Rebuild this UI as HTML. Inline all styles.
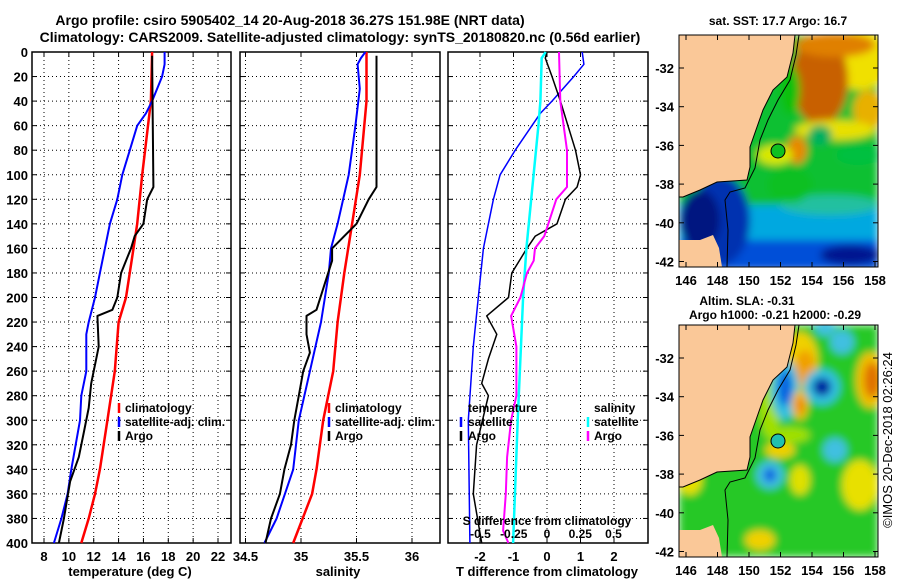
<!DOCTYPE html>
<html><head><meta charset="utf-8">
<style>
html,body{margin:0;padding:0;background:#fff;}
svg{display:block;font-family:"Liberation Sans",Arial,sans-serif;font-weight:bold;}
</style></head>
<body>
<svg id="chart" width="900" height="580" viewBox="0 0 900 580" xmlns="http://www.w3.org/2000/svg">
<defs>
<filter id="blur4" x="-20%" y="-20%" width="140%" height="140%"><feGaussianBlur stdDeviation="4"/></filter>
<clipPath id="clipMap1"><rect x="679" y="35" width="199" height="232"/></clipPath>
<clipPath id="clipMap2"><rect x="679" y="325" width="199" height="232"/></clipPath>
</defs>
<text x="290" y="25" font-size="14" text-anchor="middle">Argo profile: csiro 5905402_14 20-Aug-2018 36.27S 151.98E (NRT data)</text>
<text x="340" y="42" font-size="14" text-anchor="middle">Climatology: CARS2009. Satellite-adjusted climatology: synTS_20180820.nc (0.56d earlier)</text>
<g id="plots"></g>
<g id="maps"></g>
<text font-size="13" font-weight="normal" transform="translate(892,440) rotate(-90)" text-anchor="middle">©IMOS 20-Dec-2018 02:26:24</text>
</svg>
<script>
// ---- data ----
const depthTicks = [0,20,40,60,80,100,120,140,160,180,200,220,240,260,280,300,320,340,360,380,400];
const tempTicks = [8,10,12,14,16,18,20,22];
const salTicks = [34.5,35,35.5,36];
const diffTTicks = [-2,-1,0,1,2];
const diffSTicks = [-0.5,-0.25,0,0.25,0.5];
const salTickLabels = ["34.5","35","35.5","36"];
const diffSTickLabels = ["-0.5","-0.25","0","0.25","0.5"];

const tClimDepth = [0,40,100,140,160,200,220,260,300,340,360,380,400];
const tClimVal   = [16.7,16.6,15.9,15.5,15.2,14.6,14.0,13.7,13.1,12.5,12.1,11.6,11.0];
const tSatDepth = [0,10,20,40,50,60,80,100,120,140,180,200,220,230,260,280,300,340,360,380,400];
const tSatVal   = [17.7,17.7,17.5,16.7,16.2,15.5,14.9,14.3,13.9,13.3,12.5,12.1,11.6,11.4,11.4,11.0,10.9,10.2,9.9,9.4,8.8];
const tArgoDepth = [3,110,120,140,150,160,170,180,200,210,215,240,250,270,290,310,330,350,380,400];
const tArgoVal   = [16.7,16.8,16.3,16.0,15.3,15.0,14.6,14.2,13.9,13.5,12.3,12.4,12.2,11.8,11.6,11.2,10.8,10.1,9.6,9.2];

const sClimDepth = [0,40,100,140,180,220,260,300,340,360,400];
const sClimVal   = [35.59,35.59,35.53,35.46,35.39,35.33,35.29,35.2,35.14,35.1,34.93];
const sSatDepth = [0,5,10,30,60,100,140,160,180,220,260,300,340,380,400];
const sSatVal   = [35.58,35.54,35.51,35.53,35.49,35.43,35.33,35.27,35.25,35.18,35.08,34.98,34.93,34.78,34.67];
const sArgoDepth = [3,110,120,140,150,160,170,190,210,215,230,245,260,280,300,320,340,360,380,400];
const sArgoVal   = [35.68,35.68,35.61,35.5,35.39,35.28,35.28,35.21,35.14,35.05,35.05,35.08,35.02,34.98,34.94,34.91,34.85,34.81,34.73,34.68];

const dTSatDepth = [0,10,20,40,50,60,80,100,120,160,200,240,300,400];
const dTSatVal   = [1.05,1.1,0.8,0.15,-0.2,-0.45,-0.95,-1.4,-1.6,-1.9,-2.05,-2.2,-2.35,-2.3];
const dTArgoDepth = [0,5,20,40,80,100,110,120,140,150,160,180,200,215,230,250,270,280,320,360,400];
const dTArgoVal   = [0,-0.05,0.15,0.4,0.85,1.0,0.9,0.55,0.3,-0.35,-0.6,-1.05,-1.15,-1.8,-1.5,-1.75,-1.95,-1.75,-2.1,-2.2,-1.95];
const dSSatDepth = [0,5,40,60,160,200,300,400];
const dSSatVal   = [-0.01,-0.04,-0.05,-0.065,-0.155,-0.18,-0.22,-0.255];
const dSArgoDepth = [0,40,80,110,120,150,160,170,180,200,215,240,280,300,330,360,390,400];
const dSArgoVal   = [0.09,0.1,0.15,0.15,0.07,-0.02,-0.09,-0.1,-0.15,-0.2,-0.27,-0.23,-0.23,-0.27,-0.3,-0.31,-0.33,-0.29];

const latTicks = [-32,-34,-36,-38,-40,-42];
const lonTicks = [146,148,150,152,154,156,158];

// ---- axes ----
const NS = "http://www.w3.org/2000/svg";
const TOP = 52, BOT = 543;
const yD = d => TOP + d * ((BOT-TOP)/400);
const xT = v => 44 + (v - 8) * (174/14);
const xS = v => 301 + (v - 35) * 111;
const xDT = v => 547 + v * 33.5;
const xDS = v => 547 + v * 133;
const panels = [{x0:32,x1:231},{x0:240,x1:440},{x0:448,x1:648}];

function mk(tag, attrs, parent){
  const e = document.createElementNS(NS, tag);
  for (const k in attrs) e.setAttribute(k, attrs[k]);
  parent.appendChild(e);
  return e;
}
const plots = document.getElementById('plots');

function drawPanel(p, name, xTicksPx){
  const g = mk('g', {}, plots);
  
  
  depthTicks.forEach(d => {
    if (d===0||d===400) return;
    const gl = mk('line',{x1:p.x0,x2:p.x1,y1:yD(d),y2:yD(d),stroke:'#000','stroke-width':1,'stroke-dasharray':'1,3'},g);
    
    
    mk('line',{x1:p.x0,x2:p.x0+5,y1:yD(d),y2:yD(d),stroke:'#000'},g);
    mk('line',{x1:p.x1-5,x2:p.x1,y1:yD(d),y2:yD(d),stroke:'#000'},g);
  });
  xTicksPx.forEach(x => {
    const gl = mk('line',{x1:x,x2:x,y1:TOP,y2:BOT,stroke:'#000','stroke-width':1,'stroke-dasharray':'1,3'},g);
    
    
    mk('line',{x1:x,x2:x,y1:BOT,y2:BOT-5,stroke:'#000'},g);
    mk('line',{x1:x,x2:x,y1:TOP,y2:TOP+5,stroke:'#000'},g);
  });
  const fr = mk('rect',{x:p.x0,y:TOP,width:p.x1-p.x0,height:BOT-TOP,fill:'none',stroke:'#000','stroke-width':1.5},g);
  
  
  return g;
}
function line(g, depths, vals, xf, color, w, name){
  const pts = depths.map((d,i)=> xf(vals[i]).toFixed(1)+','+yD(d).toFixed(1)).join(' ');
  const pl = mk('polyline',{points:pts,fill:'none',stroke:color,'stroke-width':w,'stroke-linejoin':'round'},g);
  
  
}
function text(g, x, y, s, size, anchor, name, color){
  const t = mk('text',{x:x,y:y,'font-size':size,'text-anchor':anchor||'start',fill:color||'#000'},g);
  t.textContent = s;
  
  
  return t;
}
function legendMark(g,x,y,color){
  const m = mk('line',{x1:x,x2:x,y1:y-10,y2:y,stroke:color,'stroke-width':2.5},g);
  
  
}

// y tick labels
const yl = mk('g',{},plots);


depthTicks.forEach(d => text(yl, 28, yD(d)+5, String(d), 13, 'end', 'y-tick-label'));

const LB = [412, 426, 440];

// temperature panel
const gT = drawPanel(panels[0], 'temperature-panel', tempTicks.map(xT));
line(gT, tClimDepth, tClimVal, xT, '#ff0000', 2.5, 'temp-climatology-line');
line(gT, tSatDepth, tSatVal, xT, '#0000ff', 2, 'temp-satellite-line');
line(gT, tArgoDepth, tArgoVal, xT, '#000', 2, 'temp-argo-line');
tempTicks.forEach(v => text(gT, xT(v), 561, String(v), 13, 'middle', 'x-tick-label'));
text(gT, 130, 576, 'temperature (deg C)', 13, 'middle', 'x-axis-title');
legendMark(gT,119,LB[0]+1,'#ff0000'); text(gT,125,LB[0],'climatology',12,'start','legend-entry');
legendMark(gT,119,LB[1]+1,'#0000ff'); text(gT,125,LB[1],'satellite-adj. clim.',12,'start','legend-entry');
legendMark(gT,119,LB[2]+1,'#000'); text(gT,125,LB[2],'Argo',12,'start','legend-entry');

// salinity panel
const gS = drawPanel(panels[1], 'salinity-panel', salTicks.map(xS));
line(gS, sClimDepth, sClimVal, xS, '#ff0000', 2.5, 'sal-climatology-line');
line(gS, sSatDepth, sSatVal, xS, '#0000ff', 2, 'sal-satellite-line');
line(gS, sArgoDepth, sArgoVal, xS, '#000', 2, 'sal-argo-line');
salTicks.forEach((v,i) => text(gS, xS(v), 561, salTickLabels[i], 13, 'middle', 'x-tick-label'));
text(gS, 338, 576, 'salinity', 13, 'middle', 'x-axis-title');
legendMark(gS,329,LB[0]+1,'#ff0000'); text(gS,335,LB[0],'climatology',12,'start','legend-entry');
legendMark(gS,329,LB[1]+1,'#0000ff'); text(gS,335,LB[1],'satellite-adj. clim.',12,'start','legend-entry');
legendMark(gS,329,LB[2]+1,'#000'); text(gS,335,LB[2],'Argo',12,'start','legend-entry');

// difference panel
const gD = drawPanel(panels[2], 'difference-panel', diffTTicks.map(xDT));
line(gD, dTSatDepth, dTSatVal, xDT, '#0000ff', 1.5, 'dT-satellite-line');
line(gD, dTArgoDepth, dTArgoVal, xDT, '#000', 1.5, 'dT-argo-line');
line(gD, dSSatDepth, dSSatVal, xDS, '#00ffff', 2.5, 'dS-satellite-line');
line(gD, dSArgoDepth, dSArgoVal, xDS, '#ff00ff', 2, 'dS-argo-line');
diffTTicks.forEach(v => text(gD, xDT(v), 561, String(v), 13, 'middle', 'x-tick-label'));
diffSTicks.forEach((v,i) => text(gD, xDS(v), 538, diffSTickLabels[i], 12, 'middle', 's-tick-label'));
text(gD, 547, 525, 'S difference from climatology', 12, 'middle', 's-axis-title');
text(gD, 547, 576, 'T difference from climatology', 13, 'middle', 'x-axis-title');
text(gD, 468, LB[0], 'temperature', 12, 'start', 'legend-title');
legendMark(gD,461,LB[1]+1,'#0000ff'); text(gD,468,LB[1],'satellite',12,'start','legend-entry');
legendMark(gD,461,LB[2]+1,'#000'); text(gD,468,LB[2],'Argo',12,'start','legend-entry');
text(gD, 594, LB[0], 'salinity', 12, 'start', 'legend-title');
legendMark(gD,588,LB[1]+1,'#00ffff'); text(gD,594,LB[1],'satellite',12,'start','legend-entry');
legendMark(gD,588,LB[2]+1,'#ff00ff'); text(gD,594,LB[2],'Argo',12,'start','legend-entry');

// ---- maps ----
const maps = document.getElementById('maps');
const lonX = lon => 686 + (lon - 146) * (189/12);
const coast = [[795,35],[793,53],[787,77],[773,90],[763,110],[757,127],[750,147],[750,167],[747,180],[717,182],[700,190],[683,197],[679,197]];
const shelf = [[799,35],[796,55],[790,80],[778,100],[768,120],[760,140],[755,168],[745,188],[730,192],[725,200],[728,230],[727,267]];

function drawMap(oy, clip, blobs, name, title1, title2){
  const dy = oy - 35;
  const g = mk('g',{},maps);
  
  
  const inner = mk('g',{'clip-path':'url(#'+clip+')'},g);
  const oc = mk('g',{filter:'url(#blur4)'},inner);
  blobs.forEach(b => {
    if (b[0]==='r') mk('rect',{x:b[1],y:b[2]+dy,width:b[3],height:b[4],fill:b[5]},oc);
    else mk('ellipse',{cx:b[1],cy:b[2]+dy,rx:b[3],ry:b[4],fill:b[5]},oc);
  });
  const lp = mk('polygon',{points:[[679,35+dy]].concat(coast.map(p=>[p[0],p[1]+dy])).map(p=>p.join(',')).join(' '),fill:'#fac898'},inner);
  
  
  const lp2 = mk('polygon',{points:[[679,240],[700,240],[713,235],[719,248],[722,267],[679,267]].map(p=>p[0]+','+(p[1]+dy)).join(' '),fill:'#fac898'},inner);
  
  
  mk('polyline',{points:coast.map(p=>p[0]+','+(p[1]+dy)).join(' '),fill:'none',stroke:'#000','stroke-width':1},inner);
  mk('polyline',{points:shelf.map(p=>p[0]+','+(p[1]+dy)).join(' '),fill:'none',stroke:'#000','stroke-width':1},inner);
  const m = mk('circle',{cx:778,cy:151+dy,r:7,fill:dy===0?'#10c020':'#20c0b0',stroke:'#000','stroke-width':1},g);
  
  
  mk('rect',{x:679,y:oy,width:199,height:232,fill:'none',stroke:'#000','stroke-width':1},g);
  const latY = lat => (dy===0?68:358) + (-32 - lat) * 19.35;
  latTicks.forEach(l => {
    mk('line',{x1:679,x2:684,y1:latY(l),y2:latY(l),stroke:'#000'},g);
    mk('line',{x1:873,x2:878,y1:latY(l),y2:latY(l),stroke:'#000'},g);
    text(g, 674, latY(l)+5, String(l), 13, 'end', 'lat-tick-label');
  });
  lonTicks.forEach(l => {
    mk('line',{x1:lonX(l),x2:lonX(l),y1:oy+232,y2:oy+227,stroke:'#000'},g);
    mk('line',{x1:lonX(l),x2:lonX(l),y1:oy,y2:oy+5,stroke:'#000'},g);
    text(g, lonX(l), oy+250, String(l), 13, 'middle', 'lon-tick-label');
  });
  if (title2) { text(g, 747, oy-20, title1, 12, 'middle', 'map-title'); text(g, 775, oy-6, title2, 12, 'middle', 'map-subtitle'); }
  else text(g, 778, oy-10, title1, 12, 'middle', 'map-title');
}
const sstBlobs = [
 ['r',679,35,199,232,'#10c030'],
 ['r',679,205,199,40,'#00a8e0'],
 ['r',679,240,199,30,'#0050d8'],
 ['e',850,255,30,10,'#001890'],
 ['e',720,220,30,45,'#0030b0'],
 ['e',700,220,20,30,'#001880'],
 ['e',830,205,50,10,'#20c0a0'],
 ['e',790,185,22,18,'#10c020'],
 ['e',860,60,30,30,'#f0e000'],
 ['e',820,80,28,45,'#c86000'],
 ['e',835,45,40,12,'#e08000'],
 ['e',868,110,15,20,'#e8b000'],
 ['e',835,130,40,10,'#e8e000'],
 ['e',797,150,10,14,'#e88800'],
 ['e',820,135,12,10,'#00b060'],
 ['e',790,90,10,25,'#10c010'],
 ['e',775,155,18,10,'#d8e800'],
 ['e',858,155,22,10,'#00c040'],
];
const slaBlobs = [
 ['r',679,35,199,232,'#28c828'],
 ['e',770,100,12,50,'#a0e000'],
 ['e',800,70,18,28,'#f0d000'],
 ['e',805,78,10,18,'#f0a000'],
 ['e',785,100,14,30,'#30c0e0'],
 ['e',785,98,7,18,'#0060e0'],
 ['e',822,97,18,18,'#30c0e0'],
 ['e',822,97,9,9,'#0020a0'],
 ['e',800,115,8,15,'#f0c000'],
 ['e',800,115,4,9,'#f08000'],
 ['e',870,90,14,28,'#f0c000'],
 ['e',872,90,8,18,'#e07000'],
 ['e',842,52,12,12,'#40c0e0'],
 ['e',825,38,10,8,'#40c0e0'],
 ['e',835,160,12,12,'#40c0e0'],
 ['e',770,185,14,14,'#40c0e0'],
 ['e',770,185,6,7,'#0060e0'],
 ['e',780,160,15,8,'#f0d000'],
 ['e',800,190,10,15,'#e0e000'],
 ['e',860,195,18,25,'#e8e000'],
 ['e',760,250,15,10,'#f0d000'],
 ['e',690,190,12,15,'#e8e000'],
 ['e',790,145,20,8,'#a0e000'],
];
drawMap(35,'clipMap1',sstBlobs,'sst-map','sat. SST: 17.7 Argo: 16.7');
drawMap(325,'clipMap2',slaBlobs,'sla-map','Altim. SLA: -0.31','Argo h1000: -0.21 h2000: -0.29');
</script>
</body></html>
